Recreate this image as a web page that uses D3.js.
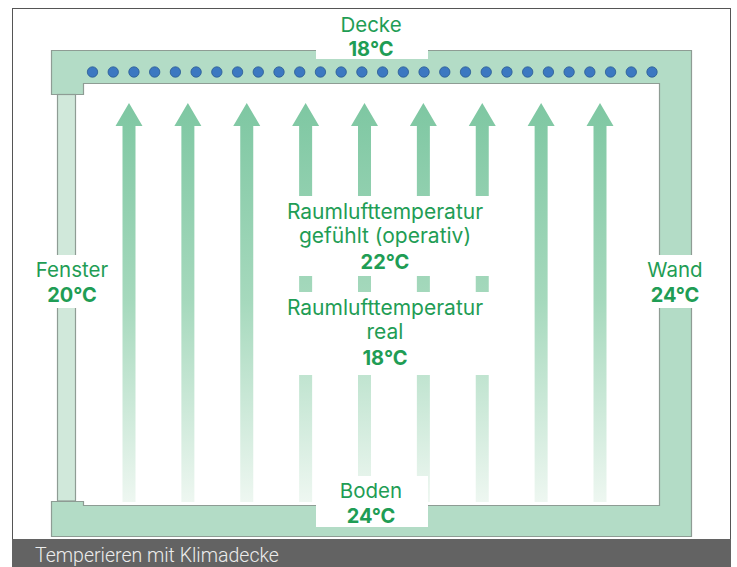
<!DOCTYPE html>
<html>
<head>
<meta charset="utf-8">
<script src="https://cdn.jsdelivr.net/npm/d3@7"></script>
<style>
  body { margin: 0; background: #fff; }
  svg { display: block; }
</style>
</head>
<body>
<script>
// Surfaces and their temperatures
const surfaces = ["Decke", "Fenster", "Wand", "Boden"];
const surfaceTemps = [18, 20, 24, 24];
// Room air labels
const roomLines = [["Raumlufttemperatur", "gefühlt (operativ)"], ["Raumlufttemperatur", "real"]];
const roomTemps = [22, 18];
const caption = "Temperieren mit Klimadecke";
const arrowIdx = d3.range(9);   // warm air arrows
const dotIdx = d3.range(28);    // cooling pipes in ceiling

const width = 737, height = 567;
const green = "#b3dcc6", edge = "#8e9c94", txt = "#1f9d55";

const svg = d3.select("body").append("svg")
    .attr("width", width)
    .attr("height", height);

const defs = svg.append("defs");
const grad = defs.append("linearGradient")
    .attr("id", "arrowGrad")
    .attr("gradientUnits", "userSpaceOnUse")
    .attr("x1", 0).attr("y1", 103).attr("x2", 0).attr("y2", 502);
grad.append("stop").attr("offset", 0).attr("stop-color", "#7ec7a2");
grad.append("stop").attr("offset", 0.5).attr("stop-color", "#a6d9bd");
grad.append("stop").attr("offset", 1).attr("stop-color", "#eef7f1");

// frame
svg.append("rect")
    .attr("x", 12.5).attr("y", 8.5)
    .attr("width", 718).attr("height", 531)
    .attr("fill", "none").attr("stroke", "#555").attr("stroke-width", 1);

// scales
const xArrow = d3.scaleLinear().domain([0, 8]).range([129, 600]);
const xDot = d3.scaleLinear().domain([0, 27]).range([92.5, 652]);

// arrows
const arrowPath = d3.line();
svg.append("g")
    .selectAll("path")
    .data(arrowIdx)
    .join("path")
    .attr("d", i => {
        const c = xArrow(i);
        return arrowPath([
            [c, 103], [c + 13.5, 126], [c + 6.5, 126], [c + 6.5, 502],
            [c - 6.5, 502], [c - 6.5, 126], [c - 13.5, 126]
        ]) + "Z";
    })
    .attr("fill", "url(#arrowGrad)");

// room shell: ceiling, right wall, floor
const shell = [
    [51, 50], [691, 50], [691, 536], [51, 536], [51, 501], [83, 501], [83, 505],
    [659, 505], [659, 83], [83, 83], [83, 94], [51, 94]
];
svg.append("path")
    .attr("d", d3.line()(shell.map(p => [p[0] + 0.5, p[1] + 0.5])) + "Z")
    .attr("fill", green)
    .attr("stroke", edge)
    .attr("stroke-width", 1.2);

// window
svg.append("rect")
    .attr("x", 57.5).attr("y", 94.5)
    .attr("width", 18).attr("height", 406.5)
    .attr("fill", "#d0e8da")
    .attr("stroke", edge)
    .attr("stroke-width", 1.2);

// cooling pipes
svg.append("g")
    .selectAll("circle")
    .data(dotIdx)
    .join("circle")
    .attr("cx", i => xDot(i))
    .attr("cy", 72)
    .attr("r", 5.2)
    .attr("fill", "#3c78c1")
    .attr("stroke", "#2b5c93")
    .attr("stroke-width", 0.8);

// white label backgrounds
const boxes = [
    [316, 44, 112, 15],   // Decke
    [50, 255, 40, 53],    // Fenster
    [654, 255, 42, 53],   // Wand
    [316, 476, 112, 51],  // Boden
    [268, 196, 230, 80],  // gefühlt
    [268, 292, 230, 83]   // real
];
svg.append("g")
    .selectAll("rect")
    .data(boxes)
    .join("rect")
    .attr("x", d => d[0]).attr("y", d => d[1])
    .attr("width", d => d[2]).attr("height", d => d[3])
    .attr("fill", "#fff");

// surface labels
const surfPos = [[371, 32, 56], [72, 277, 302], [675, 277, 302], [371, 498, 523]];
const labels = svg.append("g")
    .attr("font-family", "Inter, 'Liberation Sans', sans-serif")
    .attr("text-anchor", "middle")
    .attr("fill", txt);

surfaces.forEach((s, i) => {
    const p = surfPos[i];
    labels.append("text")
        .attr("x", p[0]).attr("y", p[1])
        .attr("font-size", 20.5)
        .text(s);
    labels.append("text")
        .attr("x", p[0]).attr("y", p[2])
        .attr("font-size", 20)
        .attr("font-weight", "bold")
        .text(surfaceTemps[i] + "°C");
});

// room air labels
const roomY = [219, 315];
roomLines.forEach((lines, i) => {
    lines.forEach((l, j) => {
        labels.append("text")
            .attr("x", 385).attr("y", roomY[i] + j * 24)
            .attr("font-size", 21)
            .text(l);
    });
    labels.append("text")
        .attr("x", 385).attr("y", roomY[i] + 50)
        .attr("font-size", 20)
        .attr("font-weight", "bold")
        .text(roomTemps[i] + "°C");
});

// caption bar
svg.append("rect")
    .attr("x", 12).attr("y", 539)
    .attr("width", 719).attr("height", 28)
    .attr("fill", "#636363");
svg.append("text")
    .attr("x", 35).attr("y", 562)
    .attr("font-family", "Roboto, sans-serif")
    .attr("font-weight", 300)
    .attr("font-size", 19.5)
    .attr("fill", "#ececec")
    .text(caption);
</script>
</body>
</html>
